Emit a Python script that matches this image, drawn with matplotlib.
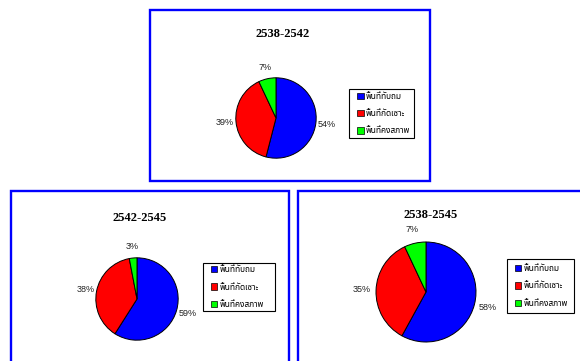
import matplotlib
matplotlib.use("Agg")
import matplotlib.pyplot as plt
from matplotlib.patches import Rectangle, Patch
from matplotlib import font_manager as fm

# Land-change shares (percent) for three periods
periods = ["2538-2542", "2542-2545", "2538-2545"]
deposition = [54, 59, 58]   # พื้นที่ทับถม
erosion = [39, 38, 35]      # พื้นที่กัดเซาะ
stable = [7, 3, 7]          # พื้นที่คงสภาพ
legend_labels = ["พื้นที่ทับถม", "พื้นที่กัดเซาะ", "พื้นที่คงสภาพ"]
slice_colors = ["#0000FF", "#FF0000", "#00FF00"]

W, H = 580, 361
available = {f.name for f in fm.fontManager.ttflist}
thai_pref = ["Noto Sans Thai", "Loma", "Garuda", "Tahoma", "Sarabun", "FreeSans", "FreeSerif"]
thai_family = [f for f in thai_pref if f in available] or ["DejaVu Sans"]
thai_family = thai_family[:1] + ["DejaVu Sans"]

fig = plt.figure(figsize=(W / 100, H / 100), dpi=100)


def fx(px):
    return px / W


def fy(py):
    return 1 - py / H


# panel frames: (left, top, right, bottom) in pixels
frames = [(150, 10, 430, 181), (11, 191, 289, 400), (298, 191, 640, 400)]
titles_xy = [(283, 34), (140, 218), (431, 215)]
pie_geom = [(276, 118, 41), (137, 299, 42), (426, 292, 51)]
legend_boxes = [(349, 89, 65, 49), (203, 263, 72, 48), (507, 259, 67, 54)]

for i in range(3):
    l, t, r, b = frames[i]
    fig.patches.append(Rectangle((fx(l), fy(b)), fx(r) - fx(l), fy(t) - fy(b),
                                 transform=fig.transFigure, fill=False,
                                 edgecolor="#0000FF", linewidth=1.7))
    tx, ty = titles_xy[i]
    fig.text(fx(tx), fy(ty), periods[i], ha="center", va="center",
             fontsize=9, fontweight="bold", family="Liberation Serif")

    cx, cy, rad = pie_geom[i]
    ax = fig.add_axes([fx(cx - rad), fy(cy + rad), 2 * rad / W, 2 * rad / H])
    vals = [deposition[i], erosion[i], stable[i]]
    wedges, texts = ax.pie(vals, colors=slice_colors, startangle=90, counterclock=False,
                           labels=[f"{v}%" for v in vals], labeldistance=1.28,
                           wedgeprops=dict(edgecolor="black", linewidth=0.7),
                           textprops=dict(fontsize=6.5, family="Liberation Sans",
                                          color="#222222"))
    for tx_ in texts:
        tx_.set_ha("center")
        tx_.set_va("center")
    ax.set_xlim(-1.02, 1.02)
    ax.set_ylim(-1.02, 1.02)
    ax.set_aspect("equal")
    ax.axis("off")

    lx, ly, lw, lh = legend_boxes[i]
    fig.patches.append(Rectangle((fx(lx), fy(ly + lh)), lw / W, lh / H,
                                 transform=fig.transFigure, facecolor="white",
                                 edgecolor="black", linewidth=0.8))
    handles = [Patch(facecolor=c, edgecolor="black", linewidth=0.5) for c in slice_colors]
    fig.legend(handles, legend_labels, loc="center left",
               bbox_to_anchor=(fx(lx + 2), fy(ly + lh / 2)), frameon=False,
               prop=dict(family=thai_family, size=6),
               handlelength=0.8, handleheight=0.8, handletextpad=0.25,
               labelspacing=1.0, borderpad=0.2)

fig.savefig("out.png", dpi=100)
